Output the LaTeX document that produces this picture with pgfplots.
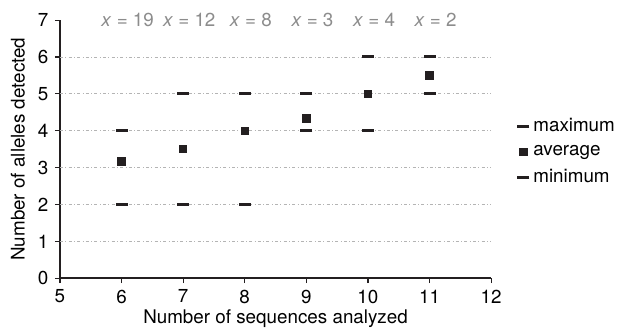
\documentclass[border=0pt]{standalone}
\usepackage{fontspec}
\setmainfont{TeX Gyre Heros}
\usepackage{pgfplots}
\pgfplotsset{compat=1.18}
\definecolor{anno}{RGB}{140,140,140}
\definecolor{gridc}{RGB}{180,180,180}
\definecolor{axc}{RGB}{35,31,32}
\newcommand{\ff}{\fontsize{9.4}{11.5}\selectfont}
\begin{document}
\ff
\begin{tikzpicture}
\begin{axis}[
  scale only axis,
  width=215.5pt, height=129pt,
  xmin=5, xmax=12, ymin=0, ymax=7,
  xtick={5,...,12}, ytick={0,...,7},
  axis x line*=bottom, axis y line*=left,
  axis line style={axc, line width=0.75pt, -},
  tick style={axc, line width=0.6pt},
  tickwidth=2.5pt,
  tick align=outside,
  /pgf/number format/assume math mode=true,
  ticklabel style={font=\ff},
  label style={font=\ff},
  xlabel={Number of sequences analyzed},
  ylabel={Number of alleles detected},
  xlabel style={at={(rel axis cs:0.5,-0.155)}, anchor=center},
  ylabel style={at={(rel axis cs:-0.0975,0.5)}, anchor=center},
  clip=false,
  legend style={at={(1.06,0.49)}, anchor=west, draw=none, fill=none,
    font=\ff, row sep=1.5pt, inner sep=0pt,
    legend cell align=left},
  legend image code/.code={\draw[#1] plot coordinates {(0.1cm,0cm)};},
]
\foreach \yy in {1,...,6} {
  \edef\temp{\noexpand\draw[gridc, line width=0.4pt, dash pattern=on 1.5pt off 1.2pt on 0.4pt off 1.2pt] (axis cs:5,\yy) -- (axis cs:12,\yy);}
  \temp
}
\addplot[only marks, mark=-, mark size=3pt, mark options={line width=1.5pt, axc}]
  coordinates {(6,4) (7,5) (8,5) (9,5) (10,6) (11,6)};
\addlegendentry{maximum}
\addplot[only marks, mark=square*, mark size=1.85pt, mark options={axc, fill=axc}]
  coordinates {(6,3.17) (7,3.5) (8,4) (9,4.33) (10,5) (11,5.5)};
\addlegendentry{average}
\addplot[only marks, mark=-, mark size=3pt, mark options={line width=1.5pt, axc}]
  coordinates {(6,2) (7,2) (8,2) (9,4) (10,4) (11,5)};
\addlegendentry{minimum}
\node[anno, font=\ff] at (axis cs:6.1,7) {\textit{x} = 19};
\node[anno, font=\ff] at (axis cs:7.1,7) {\textit{x} = 12};
\node[anno, font=\ff] at (axis cs:8.1,7) {\textit{x} = 8};
\node[anno, font=\ff] at (axis cs:9.1,7) {\textit{x} = 3};
\node[anno, font=\ff] at (axis cs:10.1,7) {\textit{x} = 4};
\node[anno, font=\ff] at (axis cs:11.1,7) {\textit{x} = 2};
\coordinate (bl) at (rel axis cs:-0.139,-0.198);
\coordinate (tr) at (rel axis cs:1.292,1.078);
\end{axis}
\pgfresetboundingbox
\path (bl) rectangle (tr);
\end{tikzpicture}
\end{document}
